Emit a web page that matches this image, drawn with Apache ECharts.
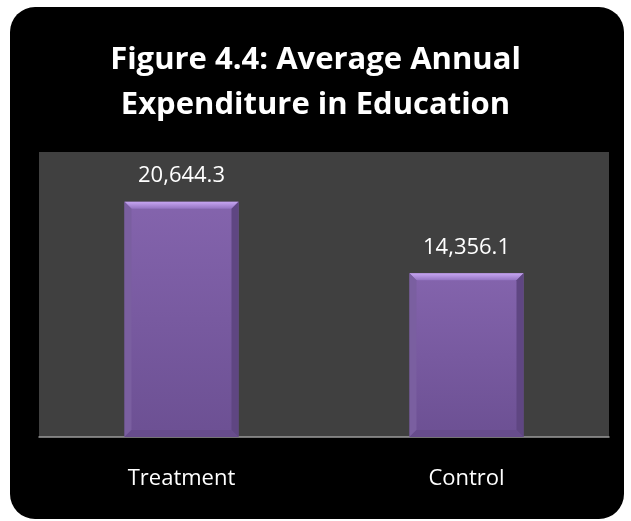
<!DOCTYPE html>
<html>
<head>
<meta charset="utf-8">
<script src="https://cdn.jsdelivr.net/npm/echarts@6/dist/echarts.min.js"></script>
<style>
  html, body { margin: 0; padding: 0; background: #ffffff; }
  #chart { width: 631px; height: 521px; }
</style>
</head>
<body>
<div id="chart"></div>
<script>
const categories = ['Treatment', 'Control']
const values = [20644.3, 14356.1]
const titleLines = ['Figure 4.4: Average Annual', 'Expenditure in Education']

const chart = echarts.init(document.getElementById('chart'))

const fmt = v => v.toLocaleString('en-US', { minimumFractionDigits: 1, maximumFractionDigits: 1 })

// bevel edges drawn over the plain bars
const renderBevel = (params, api) => {
  const top = api.coord([api.value(0), api.value(1)])
  const base = api.coord([api.value(0), 0])
  const bw = api.size([1, 0])[0] * 0.4
  const l = top[0] - bw / 2
  const r = l + bw
  const t = top[1]
  const b = base[1]
  const e = 7
  return {
    type: 'group',
    children: [
      {
        type: 'polygon',
        shape: { points: [[l, t], [r, t], [r - e, t + e], [l + e, t + e]] },
        style: {
          fill: new echarts.graphic.LinearGradient(0, 0, 0, 1, [
            { offset: 0, color: '#c7a6f2' },
            { offset: 1, color: '#9474c2' }
          ])
        }
      },
      {
        type: 'polygon',
        shape: { points: [[l, t], [l + e, t + e], [l + e, b - e], [l, b]] },
        style: { fill: '#7a5fa0' }
      },
      {
        type: 'polygon',
        shape: { points: [[r, t], [r - e, t + e], [r - e, b - e], [r, b]] },
        style: { fill: '#5f4682' }
      },
      {
        type: 'polygon',
        shape: { points: [[l, b], [l + e, b - e], [r - e, b - e], [r, b]] },
        style: { fill: '#674c8c' }
      }
    ]
  }
}

const option = {
  backgroundColor: '#ffffff',
  graphic: [
    {
      type: 'rect',
      z: -10,
      shape: { x: 10, y: 7, width: 614, height: 512, r: 25 },
      style: { fill: '#000000' }
    }
  ],
  title: {
    text: titleLines.join('\n'),
    left: 'center',
    top: 33,
    textStyle: {
      color: '#ffffff',
      fontFamily: 'Open Sans',
      fontWeight: 'bold',
      fontSize: 31,
      lineHeight: 45
    }
  },
  grid: {
    left: 39,
    top: 152,
    width: 570,
    height: 285,
    show: true,
    backgroundColor: '#404040',
    borderWidth: 0
  },
  xAxis: {
    type: 'category',
    data: categories,
    axisTick: { show: false },
    axisLine: { lineStyle: { color: '#9a9a9a', width: 1.5 } },
    axisLabel: {
      color: '#ffffff',
      fontFamily: 'Open Sans',
      fontSize: 22,
      margin: 31
    }
  },
  yAxis: {
    type: 'value',
    min: 0,
    max: 25000,
    show: false,
    splitLine: { show: false }
  },
  series: [
    {
      type: 'bar',
      data: values,
      barWidth: '40%',
      itemStyle: {
        color: new echarts.graphic.LinearGradient(0, 0, 0, 1, [
          { offset: 0, color: '#8464ad' },
          { offset: 1, color: '#6c5093' }
        ])
      },
      label: {
        show: true,
        position: 'top',
        distance: 15,
        color: '#ffffff',
        fontFamily: 'Open Sans',
        fontSize: 22,
        formatter: p => fmt(p.value)
      }
    },
    {
      type: 'custom',
      renderItem: renderBevel,
      data: values.map((v, i) => [i, v]),
      z: 3,
      silent: true
    }
  ]
}

chart.setOption(option)
</script>
</body>
</html>
